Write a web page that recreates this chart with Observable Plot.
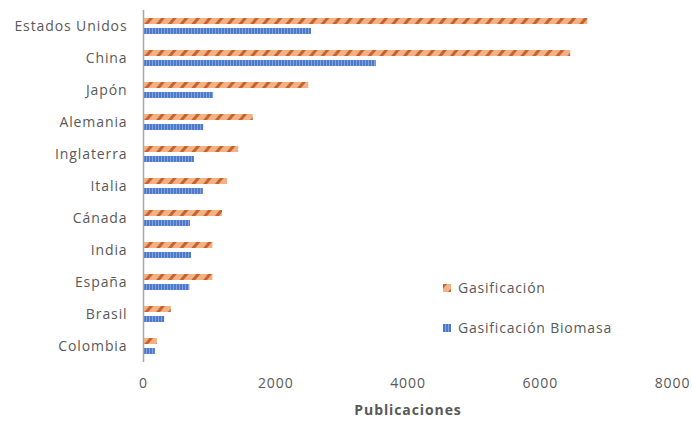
<!DOCTYPE html>
<html>
<head>
<meta charset="utf-8">
<script src="https://cdn.jsdelivr.net/npm/d3@7"></script>
<script src="https://cdn.jsdelivr.net/npm/@observablehq/plot@0.6"></script>
<style>
  html, body { margin: 0; padding: 0; background: #fff; }
  #wrap { position: relative; width: 692px; height: 421px; }
  .legend { position: absolute; left: 443px; font-family: "Open Sans", sans-serif; font-size: 14px; color: #595959; display: flex; align-items: center; letter-spacing: 0.8px; }
  .legend svg { margin-right: 7px; }
</style>
</head>
<body>
<div id="wrap"></div>
<script>
const countries = ["Estados Unidos", "China", "Japón", "Alemania", "Inglaterra", "Italia", "Cánada", "India", "España", "Brasil", "Colombia"];
const gasificacion = [6720, 6460, 2500, 1660, 1440, 1270, 1195, 1050, 1050, 420, 210];
const biomasa = [2540, 3520, 1060, 910, 770, 905, 710, 725, 700, 320, 180];
const series = ["Gasificación", "Gasificación Biomasa"];
const xTicks = [0, 2000, 4000, 6000, 8000];

const data = countries.flatMap((c, i) => [
  {country: c, series: series[0], value: gasificacion[i]},
  {country: c, series: series[1], value: biomasa[i]}
]);

const chart = Plot.plot({
  width: 692,
  height: 421,
  marginTop: 10,
  marginBottom: 59,
  marginLeft: 143,
  marginRight: 20,
  style: {fontFamily: "Open Sans, sans-serif", fontSize: "14px", color: "#595959", background: "white", letterSpacing: "0.9px"},
  x: {domain: [0, 8000], ticks: xTicks, tickSize: 0, tickPadding: 16, tickFormat: d => String(d), label: "Publicaciones", labelAnchor: "center", labelOffset: 52, labelArrow: "none"},
  y: {domain: series, axis: null, paddingInner: 0.38, paddingOuter: 0.714},
  fy: {domain: countries, padding: 0, label: null, axis: "left", tickSize: 0, tickPadding: 16},
  marks: [
    Plot.barX(data.filter(d => d.series === series[0]), {fy: "country", y: "series", x: "value", fill: "url(#pGas)"}),
    Plot.barX(data.filter(d => d.series === series[1]), {fy: "country", y: "series", x: "value", fill: "url(#pBio)"}),
    Plot.ruleX([0], {stroke: "#a6a6a6", strokeWidth: 1.5})
  ]
});

const defs = `
<defs>
  <pattern id="pGas" patternUnits="userSpaceOnUse" width="9" height="9" patternTransform="rotate(40)">
    <rect width="9" height="9" fill="#f3b285"/>
    <rect x="0" y="0" width="3" height="9" fill="#c8622a"/>
  </pattern>
  <pattern id="pBio" patternUnits="userSpaceOnUse" width="3" height="6">
    <rect width="3" height="6" fill="#4c79c9"/>
    <rect x="2" y="0" width="1" height="6" fill="#86a3dc"/>
  </pattern>
</defs>`;
chart.insertAdjacentHTML("afterbegin", defs);
chart.querySelectorAll("g[aria-label='x-axis label']").forEach(el => {
  el.setAttribute("font-weight", "bold");
});
const wrap = document.getElementById("wrap");
wrap.appendChild(chart);

function legendItem(label, fill, top) {
  const div = document.createElement("div");
  div.className = "legend";
  div.style.top = top + "px";
  div.innerHTML = `<svg width="8" height="8"><rect width="8" height="8" fill="${fill}"/></svg><span>${label}</span>`;
  wrap.appendChild(div);
}
legendItem(series[0], "url(#pGas)", 278);
legendItem(series[1], "url(#pBio)", 318);
</script>
</body>
</html>
